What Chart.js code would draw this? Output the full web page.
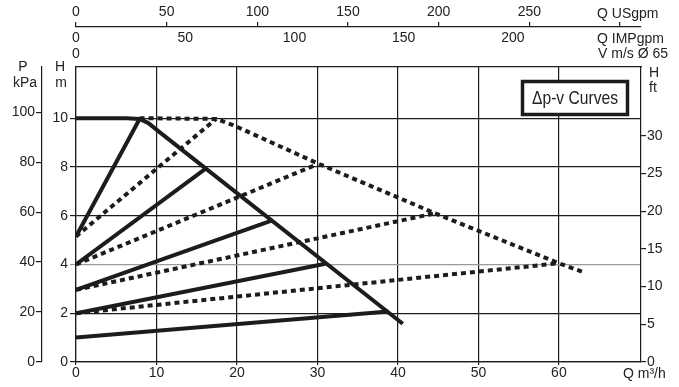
<!DOCTYPE html>
<html>
<head>
<meta charset="utf-8">
<script src="https://cdn.jsdelivr.net/npm/chart.js@4/dist/chart.umd.min.js"></script>
<style>
  html, body { margin: 0; padding: 0; background: #fff; }
  canvas { display: block; }
</style>
</head>
<body>
<canvas id="chart" width="679" height="387"></canvas>
<script>
// tick labels
const flowTicks = [0, 10, 20, 30, 40, 50, 60];
const headTicks = [0, 2, 4, 6, 8, 10];
const kpaTicks = [0, 20, 40, 60, 80, 100];
const ftTicks = [0, 5, 10, 15, 20, 25, 30];
const usgpmTicks = [0, 50, 100, 150, 200, 250, 300];
const impgpmTicks = [0, 50, 100, 150, 200, 250];
const velocityTicks = [0];

// max curve, solid (Q m3/h, H m)
const maxSolidQ = [0, 6.3, 7.9, 9.0, 10.5, 40.6];
const maxSolidH = [10, 10, 9.97, 9.8, 9.4, 1.57];

// max curve, dotted
const maxDottedQ = [7.9, 17.4, 19.5, 30, 44.6, 60.0, 62.9];
const maxDottedH = [10, 9.97, 9.72, 8.15, 6.1, 4.05, 3.7];

// dp-v lines, solid
const solidStartH = [5.15, 4.0, 2.96, 2.0, 1.0];
const solidEndQ = [7.9, 16.2, 24.3, 31.0, 38.8];
const solidEndH = [9.97, 7.95, 5.8, 4.03, 2.07];

// dp-v lines, dotted
const dottedStartH = [5.15, 4.0, 2.96, 2.0];
const dottedEndQ = [17.4, 29.9, 44.6, 60.0];
const dottedEndH = [9.97, 8.1, 6.1, 4.05];

const INK = '#1c1c1c';
const TEXT = '#222';

function pts(qs, hs) {
    return qs.map((q, i) => ({ x: q, y: hs[i] }));
}

function lineSet(data, dotted) {
    return {
        data: data,
        borderColor: INK,
        borderWidth: 4,
        borderDash: dotted ? [5, 4] : [],
        borderCapStyle: 'butt',
        borderJoinStyle: dotted ? 'miter' : 'round',
        pointRadius: 0,
        fill: false,
        tension: 0,
        xAxisID: 'x',
        yAxisID: 'y',
    };
}

const datasets = [];
dottedStartH.forEach((h, i) => {
    datasets.push(lineSet([{ x: 0, y: h }, { x: dottedEndQ[i], y: dottedEndH[i] }], true));
});
datasets.push(lineSet(pts(maxDottedQ, maxDottedH), true));
solidStartH.forEach((h, i) => {
    datasets.push(lineSet([{ x: 0, y: h }, { x: solidEndQ[i], y: solidEndH[i] }], false));
});
datasets.push(lineSet(pts(maxSolidQ, maxSolidH), false));

function setTicks(list) {
    return (scale) => { scale.ticks = list.map(v => ({ value: v })); };
}

Chart.defaults.font.family = "'Liberation Sans', Arial, sans-serif";
Chart.defaults.font.size = 14;
Chart.defaults.color = TEXT;

const textPlugin = {
    id: 'texts',
    afterDatasetsDraw(chart) {
        const ctx = chart.ctx;
        ctx.save();

        // legend box
        ctx.fillStyle = '#fff';
        ctx.fillRect(521, 80, 108, 36);
        ctx.strokeStyle = INK;
        ctx.lineWidth = 3.5;
        ctx.strokeRect(522.5, 81.5, 105, 33);
        ctx.fillStyle = TEXT;
        ctx.font = "19px 'Liberation Sans', Arial, sans-serif";
        ctx.textBaseline = 'middle';
        ctx.textAlign = 'center';
        const label = 'Δp-v Curves';
        const w = ctx.measureText(label).width;
        ctx.translate(575, 99);
        ctx.scale(86 / w, 1);
        ctx.fillText(label, 0, 0);
        ctx.restore();

        ctx.save();
        ctx.fillStyle = TEXT;
        ctx.font = "14px 'Liberation Sans', Arial, sans-serif";
        ctx.textBaseline = 'middle';
        ctx.textAlign = 'center';
        ctx.fillText('P', 23, 67);
        ctx.fillText('kPa', 25, 83);
        ctx.fillText('H', 60, 67);
        ctx.fillText('m', 61, 83);
        ctx.textAlign = 'left';
        ctx.fillText('H', 649, 73);
        ctx.fillText('ft', 649, 88);
        ctx.fillText('Q USgpm', 597, 14);
        ctx.fillText('Q IMPgpm', 597, 39);
        ctx.fillText('V m/s Ø 65', 598, 54);
        ctx.fillText('Q m³/h', 623, 374);
        ctx.restore();
    }
};

new Chart(document.getElementById('chart'), {
    type: 'line',
    data: { datasets: datasets },
    options: {
        responsive: false,
        animation: false,
        devicePixelRatio: 1,
        layout: { padding: 0 },
        plugins: {
            legend: { display: false },
            tooltip: { enabled: false },
        },
        scales: {
            x: {
                type: 'linear',
                position: 'bottom',
                min: 0,
                max: 70.2,
                afterBuildTicks: setTicks(flowTicks),
                afterFit: (s) => { s.height = 25; },
                ticks: { padding: 0, maxRotation: 0, autoSkip: false },
                grid: { color: INK, lineWidth: 1.2, tickLength: 3 },
                border: { color: INK, width: 1.2 },
            },
            xUS: {
                type: 'linear',
                position: 'top',
                weight: 3,
                min: 0,
                max: 311.6,
                afterBuildTicks: setTicks(usgpmTicks),
                afterFit: (s) => { s.height = 27; },
                ticks: {
                    padding: 1, maxRotation: 0, autoSkip: false,
                    callback: (v) => v === 300 ? '' : v,
                },
                grid: { drawOnChartArea: false, color: INK, lineWidth: 1.2, tickLength: 5 },
                border: { color: INK, width: 1.2 },
            },
            xIMP: {
                type: 'linear',
                position: 'top',
                weight: 2,
                min: 0,
                max: 258.6,
                afterBuildTicks: setTicks(impgpmTicks),
                afterFit: (s) => { s.height = 21; },
                ticks: {
                    padding: 1, maxRotation: 0, autoSkip: false,
                    callback: (v) => v === 250 ? '' : v,
                },
                grid: { display: false, drawTicks: false },
                border: { display: false },
            },
            xV: {
                type: 'linear',
                position: 'top',
                weight: 1,
                min: 0,
                max: 70.2,
                afterBuildTicks: setTicks(velocityTicks),
                afterFit: (s) => { s.height = 19; },
                ticks: { padding: 4, maxRotation: 0 },
                grid: { display: false, drawTicks: false },
                border: { color: INK, width: 1.2 },
            },
            y: {
                type: 'linear',
                position: 'left',
                weight: 1,
                min: 0,
                max: 12.1,
                afterBuildTicks: setTicks(headTicks),
                afterFit: (s) => { s.width = 34; },
                ticks: { padding: 2 },
                grid: {
                    color: (c) => (c.tick && c.tick.value === 4) ? '#9a9a9a' : INK,
                    lineWidth: 1.2,
                    tickLength: 6,
                },
                border: { color: INK, width: 1.2 },
            },
            yP: {
                type: 'linear',
                position: 'left',
                weight: 2,
                min: 0,
                max: 118.1,
                afterBuildTicks: setTicks(kpaTicks),
                afterFit: (s) => { s.width = 42; },
                ticks: { padding: 1 },
                grid: { drawOnChartArea: false, color: INK, lineWidth: 1.2, tickLength: 6 },
                border: { color: INK, width: 1.2 },
            },
            yF: {
                type: 'linear',
                position: 'right',
                min: 0,
                max: 39.1,
                afterBuildTicks: setTicks(ftTicks),
                afterFit: (s) => { s.width = 38; },
                ticks: { padding: 1 },
                grid: { drawOnChartArea: false, color: INK, lineWidth: 1.2, tickLength: 5 },
                border: { color: INK, width: 1.2 },
            },
        },
    },
    plugins: [textPlugin],
});
</script>
</body>
</html>
